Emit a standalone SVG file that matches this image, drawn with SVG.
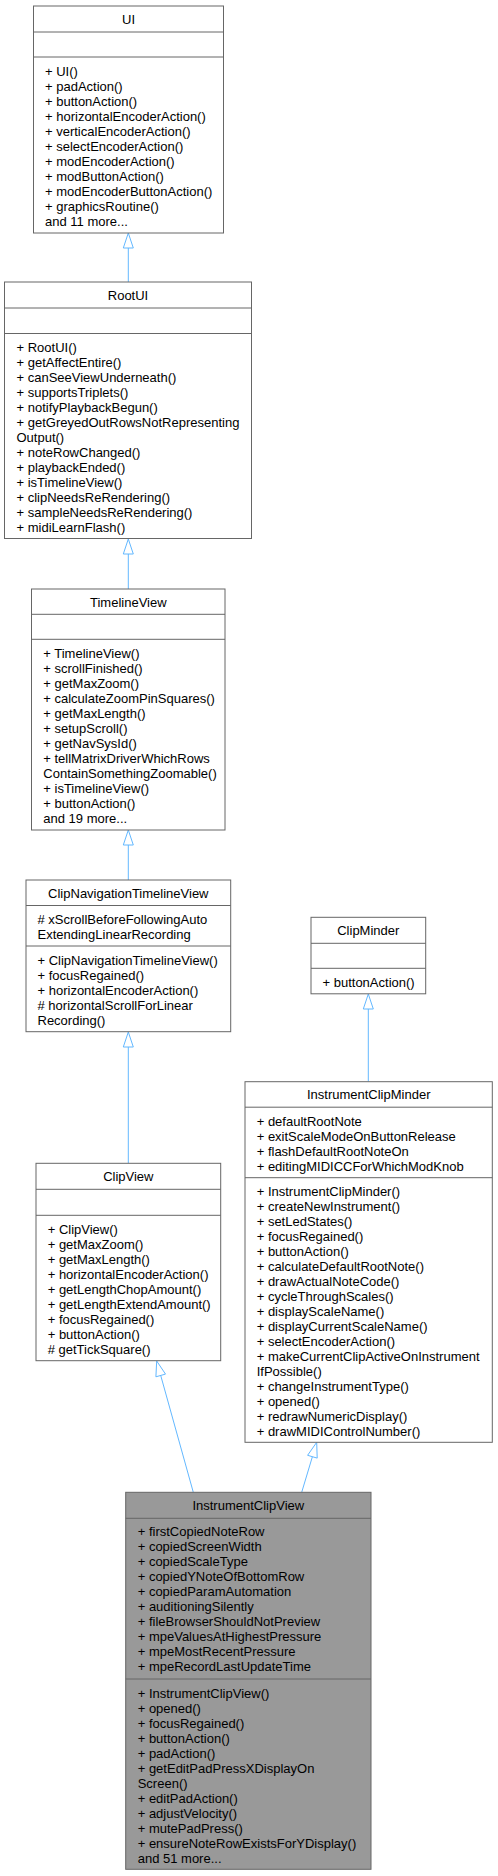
<svg xmlns="http://www.w3.org/2000/svg" width="498" height="1876" viewBox="0 0 498 1876">
<style>
.box{fill:#ffffff;stroke:#666666;stroke-width:1}
.hl{fill:#999999;stroke:#666666;stroke-width:1}
.sep{stroke:#666666;stroke-width:1}
text{font-family:"Liberation Sans",Arial,sans-serif;font-size:13px;fill:#000000}
.t{text-anchor:middle}
.edge{fill:none;stroke:#63b8ff;stroke-width:1}
.head{fill:#ffffff;stroke:#63b8ff;stroke-width:1}
</style>
<rect width="498" height="1876" fill="#ffffff"/>
<g id="connectors">
<line class="edge" x1="128.3" y1="282" x2="128.3" y2="248"/>
<polygon class="head" points="128.3,233 123.3,248 133.3,248"/>
<line class="edge" x1="128.3" y1="589" x2="128.3" y2="554"/>
<polygon class="head" points="128.3,539 123.3,554 133.3,554"/>
<line class="edge" x1="128.3" y1="880" x2="128.3" y2="845"/>
<polygon class="head" points="128.3,830 123.3,845 133.3,845"/>
<line class="edge" x1="128.3" y1="1163.3" x2="128.3" y2="1047"/>
<polygon class="head" points="128.3,1032 123.3,1047 133.3,1047"/>
<line class="edge" x1="368.3" y1="1081.7" x2="368.3" y2="1009"/>
<polygon class="head" points="368.3,994 363.3,1009 373.3,1009"/>
<line class="edge" x1="193.3" y1="1492.3" x2="160.7" y2="1375.4"/>
<polygon class="head" points="156.7,1361 165.5,1374.1 155.9,1376.8"/>
<line class="edge" x1="301.7" y1="1492.3" x2="312.4" y2="1456.7"/>
<polygon class="head" points="316.7,1442.3 317.2,1458.1 307.6,1455.3"/>
</g>
<g id="UI">
<rect class="box" x="33.5" y="6" width="190" height="227"/>
<line class="sep" x1="33.5" y1="32" x2="223.5" y2="32"/>
<line class="sep" x1="33.5" y1="57" x2="223.5" y2="57"/>
<text class="t" x="128.5" y="23.5">UI</text>
<text x="45" y="75.5">+ UI()</text>
<text x="45" y="90.5">+ padAction()</text>
<text x="45" y="105.5">+ buttonAction()</text>
<text x="45" y="120.5">+ horizontalEncoderAction()</text>
<text x="45" y="135.5">+ verticalEncoderAction()</text>
<text x="45" y="150.5">+ selectEncoderAction()</text>
<text x="45" y="165.5">+ modEncoderAction()</text>
<text x="45" y="180.5">+ modButtonAction()</text>
<text x="45" y="195.5">+ modEncoderButtonAction()</text>
<text x="45" y="210.5">+ graphicsRoutine()</text>
<text x="45" y="225.5">and 11 more...</text>
</g>
<g id="RootUI">
<rect class="box" x="4.5" y="282" width="247" height="256.5"/>
<line class="sep" x1="4.5" y1="308" x2="251.5" y2="308"/>
<line class="sep" x1="4.5" y1="333.5" x2="251.5" y2="333.5"/>
<text class="t" x="128" y="299.5">RootUI</text>
<text x="16.5" y="352">+ RootUI()</text>
<text x="16.5" y="367">+ getAffectEntire()</text>
<text x="16.5" y="382">+ canSeeViewUnderneath()</text>
<text x="16.5" y="397">+ supportsTriplets()</text>
<text x="16.5" y="412">+ notifyPlaybackBegun()</text>
<text x="16.5" y="427">+ getGreyedOutRowsNotRepresenting</text>
<text x="16.5" y="442">Output()</text>
<text x="16.5" y="457">+ noteRowChanged()</text>
<text x="16.5" y="472">+ playbackEnded()</text>
<text x="16.5" y="487">+ isTimelineView()</text>
<text x="16.5" y="502">+ clipNeedsReRendering()</text>
<text x="16.5" y="517">+ sampleNeedsReRendering()</text>
<text x="16.5" y="532">+ midiLearnFlash()</text>
</g>
<g id="TimelineView">
<rect class="box" x="31.5" y="589" width="193.5" height="241"/>
<line class="sep" x1="31.5" y1="614.3" x2="225" y2="614.3"/>
<line class="sep" x1="31.5" y1="639.3" x2="225" y2="639.3"/>
<text class="t" x="128.3" y="606.5">TimelineView</text>
<text x="43.3" y="658">+ TimelineView()</text>
<text x="43.3" y="673">+ scrollFinished()</text>
<text x="43.3" y="688">+ getMaxZoom()</text>
<text x="43.3" y="703">+ calculateZoomPinSquares()</text>
<text x="43.3" y="718">+ getMaxLength()</text>
<text x="43.3" y="733">+ setupScroll()</text>
<text x="43.3" y="748">+ getNavSysId()</text>
<text x="43.3" y="763">+ tellMatrixDriverWhichRows</text>
<text x="43.3" y="778">ContainSomethingZoomable()</text>
<text x="43.3" y="793">+ isTimelineView()</text>
<text x="43.3" y="808">+ buttonAction()</text>
<text x="43.3" y="823">and 19 more...</text>
</g>
<g id="ClipNavigationTimelineView">
<rect class="box" x="26" y="880" width="204.7" height="151.7"/>
<line class="sep" x1="26" y1="905.5" x2="230.7" y2="905.5"/>
<line class="sep" x1="26" y1="946" x2="230.7" y2="946"/>
<text class="t" x="128.3" y="897.5">ClipNavigationTimelineView</text>
<text x="37.5" y="924.3"># xScrollBeforeFollowingAuto</text>
<text x="37.5" y="939.3">ExtendingLinearRecording</text>
<text x="37.5" y="964.5">+ ClipNavigationTimelineView()</text>
<text x="37.5" y="979.5">+ focusRegained()</text>
<text x="37.5" y="994.5">+ horizontalEncoderAction()</text>
<text x="37.5" y="1009.5"># horizontalScrollForLinear</text>
<text x="37.5" y="1024.5">Recording()</text>
</g>
<g id="ClipView">
<rect class="box" x="36" y="1163.3" width="184.7" height="197.4"/>
<line class="sep" x1="36" y1="1189.3" x2="220.7" y2="1189.3"/>
<line class="sep" x1="36" y1="1215.3" x2="220.7" y2="1215.3"/>
<text class="t" x="128.3" y="1181">ClipView</text>
<text x="47.7" y="1234.3">+ ClipView()</text>
<text x="47.7" y="1249.3">+ getMaxZoom()</text>
<text x="47.7" y="1264.3">+ getMaxLength()</text>
<text x="47.7" y="1279.3">+ horizontalEncoderAction()</text>
<text x="47.7" y="1294.3">+ getLengthChopAmount()</text>
<text x="47.7" y="1309.3">+ getLengthExtendAmount()</text>
<text x="47.7" y="1324.3">+ focusRegained()</text>
<text x="47.7" y="1339.3">+ buttonAction()</text>
<text x="47.7" y="1354.3"># getTickSquare()</text>
</g>
<g id="ClipMinder">
<rect class="box" x="311" y="917.3" width="114.7" height="76.5"/>
<line class="sep" x1="311" y1="943.3" x2="425.7" y2="943.3"/>
<line class="sep" x1="311" y1="968.3" x2="425.7" y2="968.3"/>
<text class="t" x="368.3" y="935">ClipMinder</text>
<text x="322.5" y="987">+ buttonAction()</text>
</g>
<g id="InstrumentClipMinder">
<rect class="box" x="245" y="1081.7" width="247.3" height="360.6"/>
<line class="sep" x1="245" y1="1107.2" x2="492.3" y2="1107.2"/>
<line class="sep" x1="245" y1="1177.7" x2="492.3" y2="1177.7"/>
<text class="t" x="368.7" y="1099">InstrumentClipMinder</text>
<text x="256.7" y="1125.5">+ defaultRootNote</text>
<text x="256.7" y="1140.5">+ exitScaleModeOnButtonRelease</text>
<text x="256.7" y="1155.5">+ flashDefaultRootNoteOn</text>
<text x="256.7" y="1170.5">+ editingMIDICCForWhichModKnob</text>
<text x="256.7" y="1196.2">+ InstrumentClipMinder()</text>
<text x="256.7" y="1211.2">+ createNewInstrument()</text>
<text x="256.7" y="1226.2">+ setLedStates()</text>
<text x="256.7" y="1241.2">+ focusRegained()</text>
<text x="256.7" y="1256.2">+ buttonAction()</text>
<text x="256.7" y="1271.2">+ calculateDefaultRootNote()</text>
<text x="256.7" y="1286.2">+ drawActualNoteCode()</text>
<text x="256.7" y="1301.2">+ cycleThroughScales()</text>
<text x="256.7" y="1316.2">+ displayScaleName()</text>
<text x="256.7" y="1331.2">+ displayCurrentScaleName()</text>
<text x="256.7" y="1346.2">+ selectEncoderAction()</text>
<text x="256.7" y="1361.2">+ makeCurrentClipActiveOnInstrument</text>
<text x="256.7" y="1376.2">IfPossible()</text>
<text x="256.7" y="1391.2">+ changeInstrumentType()</text>
<text x="256.7" y="1406.2">+ opened()</text>
<text x="256.7" y="1421.2">+ redrawNumericDisplay()</text>
<text x="256.7" y="1436.2">+ drawMIDIControlNumber()</text>
</g>
<g id="InstrumentClipView">
<rect class="hl" x="125.7" y="1492.3" width="245.3" height="377"/>
<line class="sep" x1="125.7" y1="1518.3" x2="371" y2="1518.3"/>
<line class="sep" x1="125.7" y1="1679" x2="371" y2="1679"/>
<text class="t" x="248.3" y="1510">InstrumentClipView</text>
<text x="137.7" y="1536.2">+ firstCopiedNoteRow</text>
<text x="137.7" y="1551.2">+ copiedScreenWidth</text>
<text x="137.7" y="1566.2">+ copiedScaleType</text>
<text x="137.7" y="1581.2">+ copiedYNoteOfBottomRow</text>
<text x="137.7" y="1596.2">+ copiedParamAutomation</text>
<text x="137.7" y="1611.2">+ auditioningSilently</text>
<text x="137.7" y="1626.2">+ fileBrowserShouldNotPreview</text>
<text x="137.7" y="1641.2">+ mpeValuesAtHighestPressure</text>
<text x="137.7" y="1656.2">+ mpeMostRecentPressure</text>
<text x="137.7" y="1671.2">+ mpeRecordLastUpdateTime</text>
<text x="137.7" y="1697.8">+ InstrumentClipView()</text>
<text x="137.7" y="1712.8">+ opened()</text>
<text x="137.7" y="1727.8">+ focusRegained()</text>
<text x="137.7" y="1742.8">+ buttonAction()</text>
<text x="137.7" y="1757.8">+ padAction()</text>
<text x="137.7" y="1772.8">+ getEditPadPressXDisplayOn</text>
<text x="137.7" y="1787.8">Screen()</text>
<text x="137.7" y="1802.8">+ editPadAction()</text>
<text x="137.7" y="1817.8">+ adjustVelocity()</text>
<text x="137.7" y="1832.8">+ mutePadPress()</text>
<text x="137.7" y="1847.8">+ ensureNoteRowExistsForYDisplay()</text>
<text x="137.7" y="1862.8">and 51 more...</text>
</g>
</svg>
